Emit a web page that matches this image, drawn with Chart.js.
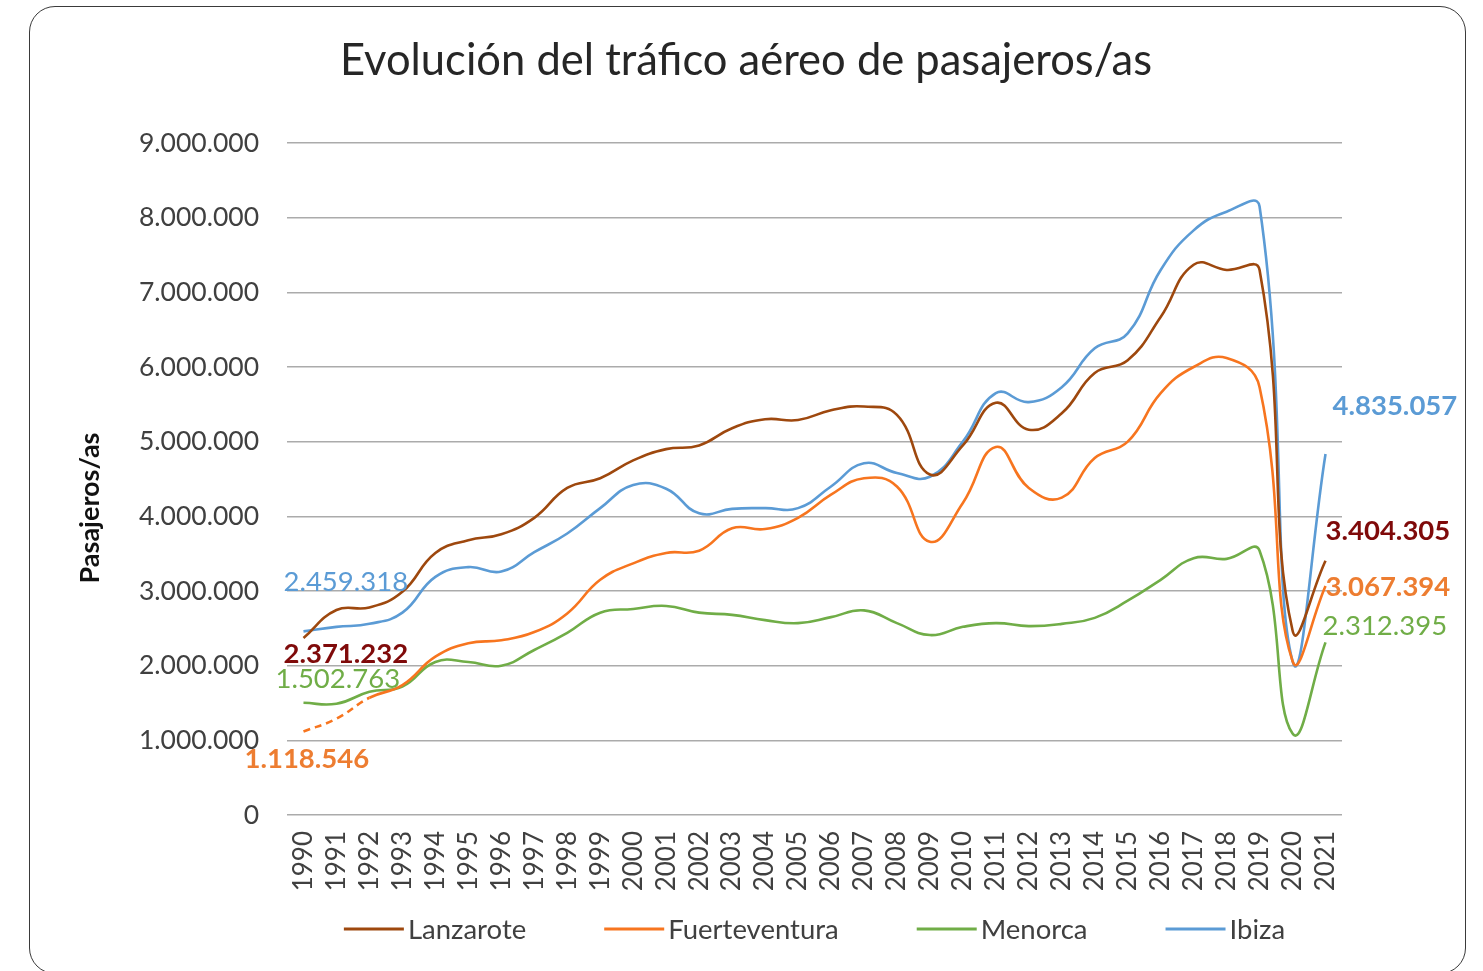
<!DOCTYPE html>
<html>
<head>
<meta charset="utf-8">
<script src="https://cdn.jsdelivr.net/npm/chart.js@4.4.1/dist/chart.umd.min.js"></script>
<style>
  html, body { margin: 0; padding: 0; background: #fff; }
  #frame {
    position: absolute; left: 29px; top: 6px; width: 1437px; height: 968px;
    box-sizing: border-box; border: 1.6px solid #3a3a3a; border-radius: 26px;
  }
  #c { position: absolute; left: 0; top: 0; }
</style>
</head>
<body>
<div id="frame"></div>
<canvas id="c" width="1483" height="971"></canvas>
<script>
// Pasajeros/as por aeropuerto, 1990-2021
const years = ['1990','1991','1992','1993','1994','1995','1996','1997','1998','1999',
  '2000','2001','2002','2003','2004','2005','2006','2007','2008','2009',
  '2010','2011','2012','2013','2014','2015','2016','2017','2018','2019','2020','2021'];

const lanzarote = [2371232, 2745000, 2780000, 2990000, 3510000, 3680000, 3760000, 3980000,
  4380000, 4510000, 4750000, 4900000, 4950000, 5180000, 5300000, 5290000, 5420000, 5470000,
  5360000, 4560000, 4950000, 5520000, 5160000, 5380000, 5920000, 6090000, 6670000, 7370000,
  7300000, 7300000, 2470000, 3404305];

const fuerteventura = [1118546, 1290000, 1570000, 1740000, 2120000, 2300000, 2340000, 2450000,
  2700000, 3150000, 3370000, 3510000, 3540000, 3840000, 3830000, 3980000, 4290000, 4510000,
  4400000, 3660000, 4180000, 4930000, 4380000, 4250000, 4780000, 5000000, 5650000, 6000000,
  6120000, 5730000, 2060000, 3067394];

const menorca = [1502763, 1490000, 1650000, 1720000, 2050000, 2050000, 2000000, 2210000,
  2440000, 2710000, 2760000, 2800000, 2710000, 2680000, 2610000, 2570000, 2650000, 2740000,
  2570000, 2410000, 2520000, 2570000, 2530000, 2560000, 2640000, 2870000, 3150000, 3440000,
  3430000, 3540000, 1090000, 2312395];

const ibiza = [2459318, 2520000, 2560000, 2710000, 3190000, 3320000, 3260000, 3520000,
  3770000, 4110000, 4420000, 4370000, 4040000, 4100000, 4110000, 4110000, 4400000, 4710000,
  4580000, 4530000, 5000000, 5650000, 5530000, 5730000, 6250000, 6450000, 7300000, 7830000,
  8080000, 8150000, 2060000, 4835057];

const seriesNames = ['Lanzarote', 'Fuerteventura', 'Menorca', 'Ibiza'];
const yTicks = [0, 1000000, 2000000, 3000000, 4000000, 5000000, 6000000, 7000000, 8000000, 9000000];
const chartTitle = 'Evolución del tráfico aéreo de pasajeros/as';
const yTitle = 'Pasajeros/as';

const FONT = 'Lato, "Open Sans", sans-serif';
const lineColors = ['#9E480E', '#F7751F', '#70AD47', '#5B9BD5'];
const labelColors = ['#7F0A0A', '#ED7D31', '#70AD47', '#5B9BD5'];

// formato con punto de millares
const fmt = n => Math.round(n).toString().replace(/\B(?=(\d{3})+(?!\d))/g, '.');

// etiquetas en el primer y último año de cada serie (desplazamiento respecto al punto)
const firstLabelStyle = [
  { dx: -20, dy: 16,  bold: true  },
  { dx: -59, dy: 28,  bold: true  },
  { dx: -28, dy: -24, bold: false },
  { dx: -20, dy: -49, bold: false }
];
const lastLabelStyle = [
  { dx: 0,  dy: -30, bold: true  },
  { dx: 0,  dy: 1,   bold: true  },
  { dx: -3, dy: -16, bold: false },
  { dx: 7,  dy: -48, bold: true  }
];

const endLabels = {
  id: 'endLabels',
  afterDatasetsDraw(chart) {
    const ctx = chart.ctx;
    ctx.save();
    ctx.textAlign = 'left';
    ctx.textBaseline = 'middle';
    chart.data.datasets.forEach((ds, i) => {
      const pts = chart.getDatasetMeta(i).data;
      [[0, firstLabelStyle[i]], [pts.length - 1, lastLabelStyle[i]]].forEach(([idx, st]) => {
        const p = pts[idx];
        ctx.font = (st.bold ? 'bold ' : '') + '27.5px ' + FONT;
        ctx.fillStyle = labelColors[i];
        ctx.fillText(fmt(ds.data[idx]), p.x + st.dx, p.y + st.dy);
      });
    });
    ctx.restore();
  }
};

// título del gráfico y del eje vertical
const titles = {
  id: 'titles',
  afterDraw(chart) {
    const ctx = chart.ctx;
    ctx.save();
    ctx.textAlign = 'center';
    ctx.textBaseline = 'middle';
    ctx.fillStyle = '#262626';
    ctx.font = '43.5px ' + FONT;
    ctx.fillText(chartTitle, 746, 61);
    ctx.translate(90, 508);
    ctx.rotate(-Math.PI / 2);
    ctx.fillStyle = '#111';
    ctx.font = 'bold 27px ' + FONT;
    ctx.fillText(yTitle, 0, 0);
    ctx.restore();
  }
};

// leyenda en una fila bajo el eje X
const lineLegend = {
  id: 'lineLegend',
  afterDraw(chart) {
    const ctx = chart.ctx;
    const area = chart.chartArea;
    ctx.save();
    ctx.font = '27.5px ' + FONT;
    ctx.textBaseline = 'middle';
    const sw = 60, gapText = 4, gapItem = 78;
    const widths = chart.data.datasets.map(d => sw + gapText + ctx.measureText(d.label).width);
    const total = widths.reduce((a, b) => a + b, 0) + gapItem * (widths.length - 1);
    let x = (area.left + area.right) / 2 - total / 2;
    const y = 929;
    chart.data.datasets.forEach((d, i) => {
      ctx.strokeStyle = d.borderColor;
      ctx.lineWidth = 3;
      ctx.beginPath();
      ctx.moveTo(x, y); ctx.lineTo(x + sw, y);
      ctx.stroke();
      ctx.fillStyle = '#404040';
      ctx.fillText(d.label, x + sw + gapText, y + 1);
      x += widths[i] + gapItem;
    });
    ctx.restore();
  }
};

const series = [lanzarote, fuerteventura, menorca, ibiza];

const datasets = series.map((vals, i) => ({
  label: seriesNames[i],
  data: vals,
  borderColor: lineColors[i],
  backgroundColor: lineColors[i],
  borderWidth: 2.6,
  pointRadius: 0,
  tension: 0.45,
  fill: false
}));
// tramo inicial estimado de Fuerteventura en discontinuo
datasets[1].segment = { borderDash: c => c.p0DataIndex < 2 ? [7, 5] : undefined };

new Chart(document.getElementById('c'), {
  type: 'line',
  data: { labels: years, datasets },
  plugins: [endLabels, titles, lineLegend],
  options: {
    responsive: false,
    animation: false,
    layout: { padding: { left: 72, right: 141, top: 143, bottom: 71 } },
    plugins: {
      legend: { display: false },
      tooltip: { enabled: false },
      title: { display: false }
    },
    scales: {
      x: {
        offset: true,
        grid: { display: false, drawTicks: false },
        border: { display: false },
        ticks: {
          color: '#404040',
          font: { family: FONT, size: 26 },
          minRotation: 90, maxRotation: 90,
          autoSkip: false,
          padding: 16
        },
        afterFit: s => { s.height = 85; }
      },
      y: {
        min: 0, max: 9000000,
        afterBuildTicks: s => { s.ticks = yTicks.map(v => ({ value: v })); },
        grid: { color: '#ABABAB', lineWidth: 1.6, drawTicks: false },
        border: { display: false },
        ticks: {
          color: '#404040',
          font: { family: FONT, size: 26.5 },
          padding: 28,
          callback: v => fmt(v)
        },
        afterFit: s => { s.width = 287 - 72; }
      }
    }
  }
});
</script>
</body>
</html>
